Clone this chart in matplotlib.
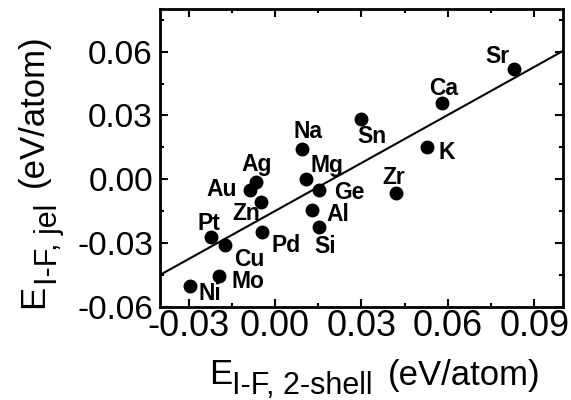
import numpy as np
import matplotlib
matplotlib.use("Agg")
import matplotlib.pyplot as plt
from matplotlib.ticker import MultipleLocator

plt.rcParams["font.family"] = ["Liberation Sans", "DejaVu Sans"]

# interface energies per element: 2-shell model vs jellium model (eV/atom)
elements = ["Sr", "Ca", "Sn", "K", "Na", "Mg", "Ag", "Au", "Ge", "Zr",
            "Zn", "Al", "Pd", "Si", "Pt", "Cu", "Mo", "Ni"]
e_2shell = [0.0829, 0.0579, 0.0297, 0.0529, 0.0095, 0.0109, -0.0065, -0.0088, 0.0151, 0.0421,
            -0.0048, 0.0128, -0.0045, 0.0151, -0.0224, -0.0173, -0.0195, -0.0295]
e_jel = [0.0516, 0.0359, 0.0284, 0.0153, 0.0141, 0.0000, -0.0011, -0.0050, -0.0050, -0.0063,
         -0.0109, -0.0144, -0.0247, -0.0223, -0.0272, -0.0311, -0.0453, -0.0503]

# linear fit through the points
fit_slope = 0.752
fit_intercept = -0.0149

# label offsets (points) so names don't sit on the markers
label_offsets = {
    "Sr": (-12, 9), "Ca": (1, 10), "Sn": (8, -13), "K": (14, -4), "Na": (4, 13),
    "Mg": (15, 10), "Ag": (0, 12), "Au": (-20, 0), "Ge": (22, -2), "Zr": (-2, 11),
    "Zn": (-11, -8), "Al": (19, -3), "Pd": (17, -10), "Si": (5, -14), "Pt": (-1, 10),
    "Cu": (17, -10), "Mo": (21, -4), "Ni": (14, -5),
}

fig = plt.figure(figsize=(5.71, 4.0), dpi=100)
ax = fig.add_axes([0.280, 0.2325, 0.706, 0.745])

xs = np.array([-0.04, 0.10])
ax.plot(xs, fit_slope * xs + fit_intercept, color="black", lw=1.5, zorder=2)
ax.plot(e_2shell, e_jel, "o", color="black", ms=9, zorder=3)

for name, x, y in zip(elements, e_2shell, e_jel):
    dx, dy = label_offsets[name]
    ax.annotate(name, (x, y), xytext=(dx, dy), textcoords="offset points",
                ha="center", va="center", fontsize=16.5, fontweight="bold")

ax.set_xlim(-0.04, 0.10)
ax.set_ylim(-0.06, 0.08)
ax.xaxis.set_major_locator(MultipleLocator(0.03))
ax.xaxis.set_minor_locator(MultipleLocator(0.015))
ax.yaxis.set_major_locator(MultipleLocator(0.03))
ax.yaxis.set_minor_locator(MultipleLocator(0.015))
ax.xaxis.set_major_formatter(lambda v, p: f"{v:.2f}")
ax.yaxis.set_major_formatter(lambda v, p: f"{v:.2f}")

ax.tick_params(which="both", direction="in", top=True, right=True, width=1.5)
ax.tick_params(which="major", length=6)
ax.tick_params(which="minor", length=3)
ax.tick_params(axis="x", pad=1.5, labelsize=26)
ax.tick_params(axis="y", pad=5, labelsize=24)
for sp in ax.spines.values():
    sp.set_linewidth(2)

W, H = 571.0, 400.0

def px(x, y):
    return x / W, 1 - y / H

# x axis label: E with subscript, then units
fig.text(*px(209, 384), "E", fontsize=25, va="baseline", ha="left")
fig.text(*px(231.5, 394), "I-F, 2-shell", fontsize=22, va="baseline", ha="left")
fig.text(*px(388, 385), "(eV/atom)", fontsize=25, va="baseline", ha="left")

# y axis label, rotated
fig.text(*px(43.3, 308), "E", fontsize=25, va="baseline", ha="left",
         rotation=90, rotation_mode="anchor")
fig.text(*px(56.7, 285), "I-F, jel", fontsize=22, va="baseline", ha="left",
         rotation=90, rotation_mode="anchor")
fig.text(*px(42.8, 187), "(eV/atom)", fontsize=25, va="baseline", ha="left",
         rotation=90, rotation_mode="anchor")

fig.savefig("out.png", dpi=100)
